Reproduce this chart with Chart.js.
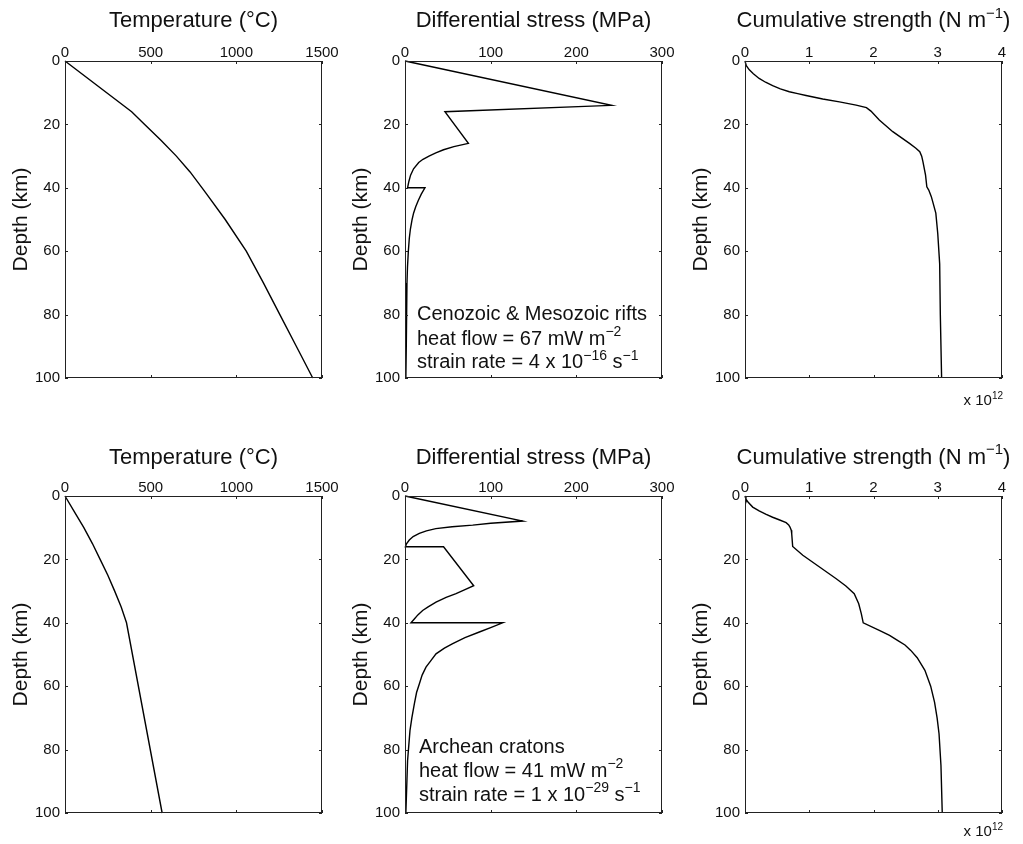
<!DOCTYPE html>
<html>
<head>
<meta charset="utf-8">
<title>Strength profiles</title>
<script src="https://cdn.jsdelivr.net/npm/chart.js@4.4.1/dist/chart.umd.min.js"></script>
<style>
  html, body { margin: 0; padding: 0; background: #fff; overflow: hidden; }
  body { width: 1023px; height: 844px; position: relative; }
  canvas { position: absolute; }
</style>
</head>
<body>
<canvas id="riftTemp" width="340" height="418" style="left:0px;top:0px"></canvas>
<canvas id="riftStress" width="340" height="418" style="left:340px;top:0px"></canvas>
<canvas id="riftStrength" width="340" height="418" style="left:680px;top:0px"></canvas>
<canvas id="cratonTemp" width="340" height="418" style="left:0px;top:435px"></canvas>
<canvas id="cratonStress" width="340" height="418" style="left:340px;top:435px"></canvas>
<canvas id="cratonStrength" width="340" height="418" style="left:680px;top:435px"></canvas>
<script>
// Tick values
const depthTicks = [0, 20, 40, 60, 80, 100];
const tempTicks = [0, 500, 1000, 1500];
const stressTicks = [0, 100, 200, 300];
const strengthTicks = [0, 1, 2, 3, 4];

// Cenozoic & Mesozoic rifts
const riftTempDepth = [0, 16, 20, 25, 30, 35, 40, 42, 50, 60, 70, 80, 90, 100];
const riftTempC = [0, 389, 465, 560, 650, 730, 800, 827, 935, 1058, 1158, 1254, 1350, 1446];

const riftStressDepth = [0, 14, 16, 26, 27, 28, 29, 30, 31, 32, 34, 36, 38, 40, 40, 42, 44, 46, 48, 50, 53, 56, 60, 65, 70, 80, 90, 100];
const riftStressMPa = [0, 241, 46.6, 74, 57, 45, 36, 28, 21, 16, 10, 6.5, 4.5, 3, 23.3, 19, 15.5, 12.5, 10, 8.3, 6.3, 5, 3.9, 2.9, 2.3, 1.7, 1.3, 1];

const riftStrengthDepth = [0, 1.5, 2.8, 4, 5.5, 6.7, 7.8, 8.8, 9.7, 10.3, 10.9, 12, 12.9, 13.9, 14.7, 15.8, 18.6, 22.3, 26, 27.5, 28.6, 30, 31.8, 36, 39.7, 40.7, 42.8, 45, 48, 54.4, 64, 80, 100];
const riftStrength = [0, 0.02, 0.067, 0.13, 0.22, 0.32, 0.43, 0.55, 0.69, 0.82, 0.95, 1.21, 1.47, 1.73, 1.89, 1.96, 2.09, 2.30, 2.56, 2.66, 2.72, 2.75, 2.77, 2.81, 2.83, 2.86, 2.90, 2.93, 2.97, 3.00, 3.03, 3.04, 3.06];

// Archean cratons
const cratonTempDepth = [0, 5, 10, 15, 20, 25, 30, 35, 40, 100];
const cratonTempC = [0, 55, 110, 160, 205, 250, 290, 328, 359, 567];

const cratonStressDepth = [0, 7.9, 8.6, 9.2, 9.7, 10.3, 11, 11.8, 12.8, 13.9, 15.2, 16, 16, 28.3, 29.5, 30.8, 32, 33.5, 35, 36.1, 37.5, 38.8, 40, 40, 41.5, 42.9, 44.7, 46.6, 48, 49.8, 52, 54, 56.5, 59.3, 62, 65.6, 70, 74, 83.5, 100];
const cratonStressMPa = [0, 137.5, 100, 79, 55, 36, 25, 16.7, 9.5, 5, 1.5, 0.5, 45, 80.2, 70, 59.6, 48, 36.2, 27, 20.6, 15, 10.9, 7, 114, 100, 86.8, 70, 55.7, 46, 36.2, 30, 24.5, 20, 16.7, 13.5, 10.9, 8, 5.8, 3, 1];

const cratonStrengthDepth = [0, 1, 2, 3.5, 4.7, 5.8, 6.7, 7.5, 8.4, 9.1, 9.8, 10.8, 11.9, 15.9, 18.7, 22.4, 26.1, 28.4, 30.8, 34, 37.1, 40, 42.4, 44, 45.6, 47, 48.7, 51, 55, 60, 65, 70, 75, 85, 100];
const cratonStrength = [0, 0.015, 0.05, 0.12, 0.22, 0.33, 0.43, 0.53, 0.64, 0.68, 0.70, 0.72, 0.727, 0.742, 0.90, 1.16, 1.42, 1.57, 1.70, 1.77, 1.81, 1.84, 2.09, 2.25, 2.38, 2.49, 2.58, 2.68, 2.80, 2.89, 2.95, 2.99, 3.02, 3.05, 3.07];

const FONT = "'Liberation Sans', Arial, Helvetica, sans-serif";
const INK = '#111';
const TICK = 3;

// Draws a line of text made of runs, some of them raised as superscripts
function drawRuns(ctx, runs, x, y, size, align) {
    const supSize = Math.round(size * 0.68);
    const pieces = runs.map(r => {
        const s = r.sup ? supSize : size;
        ctx.font = s + 'px ' + FONT;
        return { text: r.text, size: s, sup: r.sup, w: ctx.measureText(r.text).width };
    });
    const total = pieces.reduce((a, p) => a + p.w, 0);
    let cx = align === 'center' ? x - total / 2 : align === 'right' ? x - total : x;
    ctx.textAlign = 'left';
    ctx.textBaseline = 'alphabetic';
    ctx.fillStyle = INK;
    pieces.forEach(p => {
        ctx.font = p.size + 'px ' + FONT;
        ctx.fillText(p.text, cx, p.sup ? y - size * 0.42 : y);
        cx += p.w;
    });
}

// Box frame with inward ticks, plus titles and notes
const framePlugin = {
    id: 'frame',
    afterDatasetsDraw(chart, args, opts) {
        const { ctx, chartArea: a, scales: { x, y } } = chart;
        ctx.save();
        ctx.strokeStyle = '#222';
        ctx.lineWidth = 1;
        ctx.strokeRect(a.left + 0.5, a.top + 0.5, a.width - 1, a.height - 1);
        ctx.beginPath();
        x.ticks.forEach(t => {
            const px = Math.round(x.getPixelForValue(t.value)) + 0.5;
            ctx.moveTo(px, a.top); ctx.lineTo(px, a.top + TICK);
            ctx.moveTo(px, a.bottom); ctx.lineTo(px, a.bottom - TICK);
        });
        y.ticks.forEach(t => {
            const py = Math.round(y.getPixelForValue(t.value)) + 0.5;
            ctx.moveTo(a.left, py); ctx.lineTo(a.left + TICK, py);
            ctx.moveTo(a.right, py); ctx.lineTo(a.right - TICK, py);
        });
        ctx.stroke();

        drawRuns(ctx, opts.title, (a.left + a.right) / 2, a.top + opts.titleY, 22, 'center');
        (opts.notes || []).forEach((line, i) => {
            drawRuns(ctx, line, a.left + opts.noteX, a.bottom + opts.noteY[i], 20, 'left');
        });
        if (opts.exponent) {
            drawRuns(ctx, opts.exponent, a.right + 1, a.bottom + opts.exponentY, 15, 'right');
        }
        ctx.restore();
    }
};

function makePanel(id, depth, values, xMax, xTicks, frame) {
    const canvas = document.getElementById(id);
    const points = depth.map((d, i) => ({ x: values[i], y: d }));
    const tickFont = { family: FONT, size: 15 };

    return new Chart(canvas, {
        type: 'scatter',
        data: {
            datasets: [{
                data: points,
                showLine: true,
                borderColor: '#000',
                borderWidth: 1.4,
                pointRadius: 0,
                tension: 0,
                clip: 4
            }]
        },
        options: {
            responsive: false,
            devicePixelRatio: 1,
            animation: false,
            layout: { padding: { top: 0, left: 0, right: 18, bottom: 40 } },
            plugins: {
                legend: { display: false },
                tooltip: { enabled: false },
                frame: frame
            },
            scales: {
                x: {
                    type: 'linear',
                    position: 'top',
                    min: 0,
                    max: xMax,
                    grid: { display: false, drawTicks: false },
                    border: { display: false },
                    afterBuildTicks: s => { s.ticks = xTicks.map(v => ({ value: v })); },
                    afterFit: s => { s.height = 61; },
                    ticks: {
                        font: tickFont,
                        color: INK,
                        padding: -1,
                        maxRotation: 0,
                        autoSkip: false,
                        callback: v => String(v)
                    }
                },
                y: {
                    type: 'linear',
                    position: 'left',
                    min: 0,
                    max: 100,
                    reverse: true,
                    grid: { display: false, drawTicks: false },
                    border: { display: false },
                    afterBuildTicks: s => { s.ticks = depthTicks.map(v => ({ value: v })); },
                    afterFit: s => { s.width = 65; },
                    ticks: {
                        font: tickFont,
                        color: INK,
                        padding: 5,
                        autoSkip: false,
                        callback: v => String(v)
                    },
                    title: {
                        display: true,
                        text: 'Depth (km)',
                        font: { family: FONT, size: 21 },
                        color: INK,
                        padding: { top: 9, bottom: 0 }
                    }
                }
            }
        },
        plugins: [framePlugin]
    });
}

const tempTitle = [{ text: 'Temperature (\u00B0C)' }];
const stressTitle = [{ text: 'Differential stress (MPa)' }];
const strengthTitle = [{ text: 'Cumulative strength (N m' }, { text: '\u22121', sup: true }, { text: ')' }];
const exponent = [{ text: 'x 10' }, { text: '12', sup: true }];

const riftNotes = [
    [{ text: 'Cenozoic & Mesozoic rifts' }],
    [{ text: 'heat flow = 67 mW m' }, { text: '\u22122', sup: true }],
    [{ text: 'strain rate = 4 x 10' }, { text: '\u221216', sup: true }, { text: ' s' }, { text: '\u22121', sup: true }]
];
const cratonNotes = [
    [{ text: 'Archean cratons' }],
    [{ text: 'heat flow = 41 mW m' }, { text: '\u22122', sup: true }],
    [{ text: 'strain rate = 1 x 10' }, { text: '\u221229', sup: true }, { text: ' s' }, { text: '\u22121', sup: true }]
];

// Top row: rifts
makePanel('riftTemp', riftTempDepth, riftTempC, 1500, tempTicks,
    { title: tempTitle, titleY: -34 });
makePanel('riftStress', riftStressDepth, riftStressMPa, 300, stressTicks,
    { title: stressTitle, titleY: -34, notes: riftNotes, noteX: 12, noteY: [-58, -33.5, -10] });
makePanel('riftStrength', riftStrengthDepth, riftStrength, 4, strengthTicks,
    { title: strengthTitle, titleY: -34, exponent: exponent, exponentY: 27 });

// Bottom row: cratons
makePanel('cratonTemp', cratonTempDepth, cratonTempC, 1500, tempTicks,
    { title: tempTitle, titleY: -32.5 });
makePanel('cratonStress', cratonStressDepth, cratonStressMPa, 300, stressTicks,
    { title: stressTitle, titleY: -32.5, notes: cratonNotes, noteX: 14, noteY: [-60, -36.5, -12.5] });
makePanel('cratonStrength', cratonStrengthDepth, cratonStrength, 4, strengthTicks,
    { title: strengthTitle, titleY: -32.5, exponent: exponent, exponentY: 23 });
</script>
</body>
</html>
